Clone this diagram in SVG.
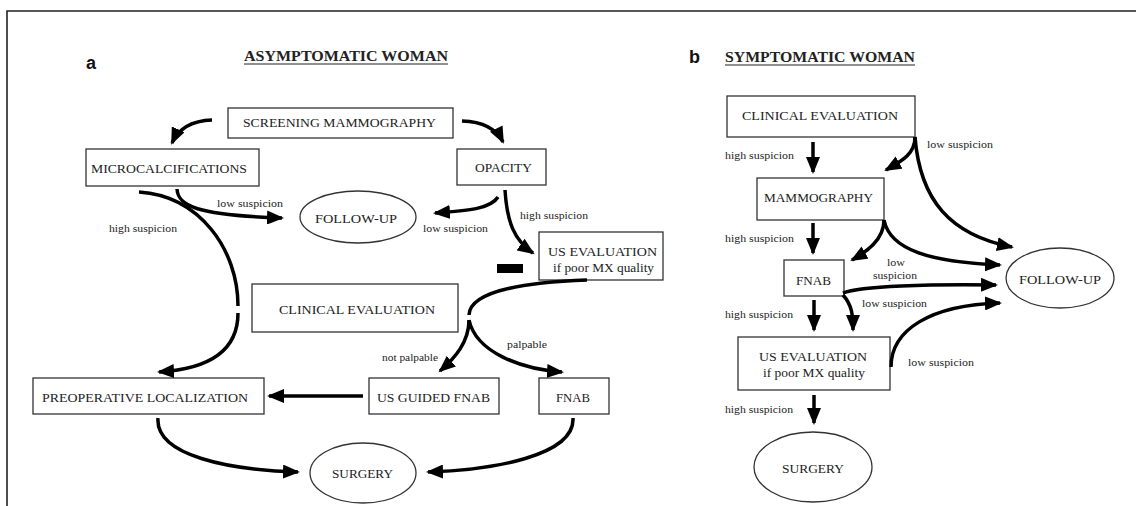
<svg xmlns="http://www.w3.org/2000/svg" width="1136" height="506" viewBox="0 0 1136 506">
<style>
.box{fill:#fff;stroke:#333;stroke-width:1.3}
.t{font-family:"Liberation Serif","Times New Roman",serif;font-size:13.5px;fill:#222}
.s{font-family:"Liberation Serif","Times New Roman",serif;font-size:10.5px;fill:#222}
.h{font-family:"Liberation Serif","Times New Roman",serif;font-size:15px;font-weight:bold;fill:#222}
.p{font-family:"Liberation Sans",Arial,sans-serif;font-size:18px;font-weight:bold;fill:#111}
.c{fill:none;stroke:#000;stroke-width:3.5}
.ca{fill:none;stroke:#000;stroke-width:3.5;marker-end:url(#ah)}
</style>
<defs>
<marker id="ah" markerUnits="userSpaceOnUse" markerWidth="18" markerHeight="14" refX="15" refY="7" orient="auto" viewBox="0 0 18 14">
<path d="M0,0 L17,7 L0,14 z" fill="#000"/>
</marker>
</defs>
<rect width="1136" height="506" fill="#fff"/>
<g id="frame"><path d="M7,506 L7,11 L1136,11" fill="none" stroke="#222" stroke-width="1.6"/></g>

<g id="panel-labels">
<text class="p" x="86" y="69">a</text>
<text class="p" x="689" y="63">b</text>
<text class="h" x="244" y="61" textLength="204" lengthAdjust="spacingAndGlyphs">ASYMPTOMATIC WOMAN</text>
<line x1="244" y1="64" x2="448" y2="64" stroke="#222" stroke-width="1.2"/>
<text class="h" x="725" y="62" textLength="190" lengthAdjust="spacingAndGlyphs">SYMPTOMATIC WOMAN</text>
<line x1="725" y1="65" x2="915" y2="65" stroke="#222" stroke-width="1.2"/>
</g>

<!-- Panel a nodes -->
<g id="a-screening"><rect class="box" x="228" y="108" width="225" height="30"/><text class="t" x="243" y="127" textLength="193" lengthAdjust="spacingAndGlyphs">SCREENING MAMMOGRAPHY</text></g>
<g id="a-micro"><rect class="box" x="86" y="149" width="173" height="37"/><text class="t" x="91" y="173" textLength="156" lengthAdjust="spacingAndGlyphs">MICROCALCIFICATIONS</text></g>
<g id="a-opacity"><rect class="box" x="457" y="149" width="89" height="36"/><text class="t" x="475" y="172" textLength="57" lengthAdjust="spacingAndGlyphs">OPACITY</text></g>
<g id="a-followup"><ellipse class="box" cx="358" cy="217" rx="58" ry="26"/><text class="t" x="315" y="223" textLength="82" lengthAdjust="spacingAndGlyphs">FOLLOW-UP</text></g>
<g id="a-useval"><rect class="box" x="539" y="232" width="124" height="48"/><text class="t" x="548" y="256" textLength="109" lengthAdjust="spacingAndGlyphs">US EVALUATION</text><text class="t" x="553" y="272" textLength="101" lengthAdjust="spacingAndGlyphs">if poor MX quality</text></g>
<g id="a-minus"><rect x="497" y="264" width="26" height="9" fill="#000"/></g>
<g id="a-clinical"><rect class="box" x="252" y="284" width="206" height="48"/><text class="t" x="279" y="314" textLength="156" lengthAdjust="spacingAndGlyphs">CLINICAL EVALUATION</text></g>
<g id="a-preop"><rect class="box" x="33" y="378" width="231" height="36"/><text class="t" x="42" y="402" textLength="206" lengthAdjust="spacingAndGlyphs">PREOPERATIVE  LOCALIZATION</text></g>
<g id="a-usguided"><rect class="box" x="369" y="378" width="130" height="36"/><text class="t" x="377" y="402" textLength="113" lengthAdjust="spacingAndGlyphs">US GUIDED FNAB</text></g>
<g id="a-fnab"><rect class="box" x="539" y="378" width="70" height="36"/><text class="t" x="556" y="402" textLength="34" lengthAdjust="spacingAndGlyphs">FNAB</text></g>
<g id="a-surgery"><ellipse class="box" cx="363" cy="473" rx="53" ry="30"/><text class="t" x="332" y="478" textLength="61" lengthAdjust="spacingAndGlyphs">SURGERY</text></g>

<!-- Panel b nodes -->
<g id="b-clinical"><rect class="box" x="727" y="96" width="188" height="41"/><text class="t" x="742" y="120" textLength="156" lengthAdjust="spacingAndGlyphs">CLINICAL EVALUATION</text></g>
<g id="b-mammo"><rect class="box" x="757" y="178" width="127" height="42"/><text class="t" x="764" y="202" textLength="109" lengthAdjust="spacingAndGlyphs">MAMMOGRAPHY</text></g>
<g id="b-fnab"><rect class="box" x="784" y="260" width="60" height="36"/><text class="t" x="796" y="285" textLength="35" lengthAdjust="spacingAndGlyphs">FNAB</text></g>
<g id="b-useval"><rect class="box" x="738" y="337" width="152" height="53"/><text class="t" x="759" y="361" textLength="108" lengthAdjust="spacingAndGlyphs">US EVALUATION</text><text class="t" x="763" y="377" textLength="102" lengthAdjust="spacingAndGlyphs">if poor MX quality</text></g>
<g id="b-followup"><ellipse class="box" cx="1060" cy="278" rx="54" ry="30"/><text class="t" x="1019" y="284" textLength="82" lengthAdjust="spacingAndGlyphs">FOLLOW-UP</text></g>
<g id="b-surgery"><ellipse class="box" cx="813" cy="467" rx="59" ry="35"/><text class="t" x="782" y="473" textLength="62" lengthAdjust="spacingAndGlyphs">SURGERY</text></g>

<g id="connectors">
<!-- panel a -->
<path class="ca" d="M212,120 Q182,121 172,143"/>
<path class="ca" d="M462,121 Q493,122 503,142"/>
<path class="c" d="M139,192 C200,196 238,250 238,306"/>
<path class="ca" d="M238,313 C238,352 208,369 159,372"/>
<path class="ca" d="M177,189 C178,206 196,215 282,218"/>
<path class="ca" d="M498,197 C490,210 462,211 435,213"/>
<path class="ca" d="M505,190 C507,222 514,240 533,253"/>
<path class="c" d="M587,280 C530,282 470,290 469,315"/>
<path class="ca" d="M469,320 C469,342 455,358 440,371"/>
<path class="ca" d="M469,320 C476,352 520,369 562,372"/>
<path class="ca" d="M363,396 L269,396"/>
<path class="ca" d="M158,418 C155,456 230,470 298,472"/>
<path class="ca" d="M573,418 C575,456 492,470 428,472"/>
<!-- panel b -->
<path class="ca" d="M813,142 L813,172"/>
<path class="ca" d="M813,223 L813,253"/>
<path class="ca" d="M814,300 L814,330"/>
<path class="ca" d="M814,395 L814,423"/>
<path class="ca" d="M915,137 C915,155 900,162 886,170"/>
<path class="ca" d="M915,137 C920,200 950,235 1012,247"/>
<path class="ca" d="M884,220 C884,240 866,252 852,260"/>
<path class="ca" d="M884,220 C890,250 930,262 1000,265"/>
<path class="ca" d="M843,293 C860,286 930,284 996,285"/>
<path class="ca" d="M843,295 C852,305 853,315 853,330"/>
<path class="ca" d="M891,367 C891,330 930,305 1000,303"/>
</g>

<g id="labels">
<text class="s" x="217" y="207" textLength="66" lengthAdjust="spacingAndGlyphs">low suspicion</text>
<text class="s" x="109" y="232" textLength="68" lengthAdjust="spacingAndGlyphs">high suspicion</text>
<text class="s" x="423" y="232" textLength="65" lengthAdjust="spacingAndGlyphs">low suspicion</text>
<text class="s" x="520" y="219" textLength="68" lengthAdjust="spacingAndGlyphs">high suspicion</text>
<text class="s" x="382" y="361" textLength="56" lengthAdjust="spacingAndGlyphs">not palpable</text>
<text class="s" x="507" y="348" textLength="40" lengthAdjust="spacingAndGlyphs">palpable</text>
<text class="s" x="725" y="159" textLength="69" lengthAdjust="spacingAndGlyphs">high suspicion</text>
<text class="s" x="927" y="148" textLength="66" lengthAdjust="spacingAndGlyphs">low suspicion</text>
<text class="s" x="725" y="242" textLength="69" lengthAdjust="spacingAndGlyphs">high suspicion</text>
<text class="s" x="887" y="266" textLength="18" lengthAdjust="spacingAndGlyphs">low</text>
<text class="s" x="873" y="279" textLength="44" lengthAdjust="spacingAndGlyphs">suspicion</text>
<text class="s" x="862" y="307" textLength="65" lengthAdjust="spacingAndGlyphs">low suspicion</text>
<text class="s" x="725" y="318" textLength="68" lengthAdjust="spacingAndGlyphs">high suspicion</text>
<text class="s" x="908" y="366" textLength="66" lengthAdjust="spacingAndGlyphs">low suspicion</text>
<text class="s" x="725" y="413" textLength="68" lengthAdjust="spacingAndGlyphs">high suspicion</text>
</g>
</svg>
